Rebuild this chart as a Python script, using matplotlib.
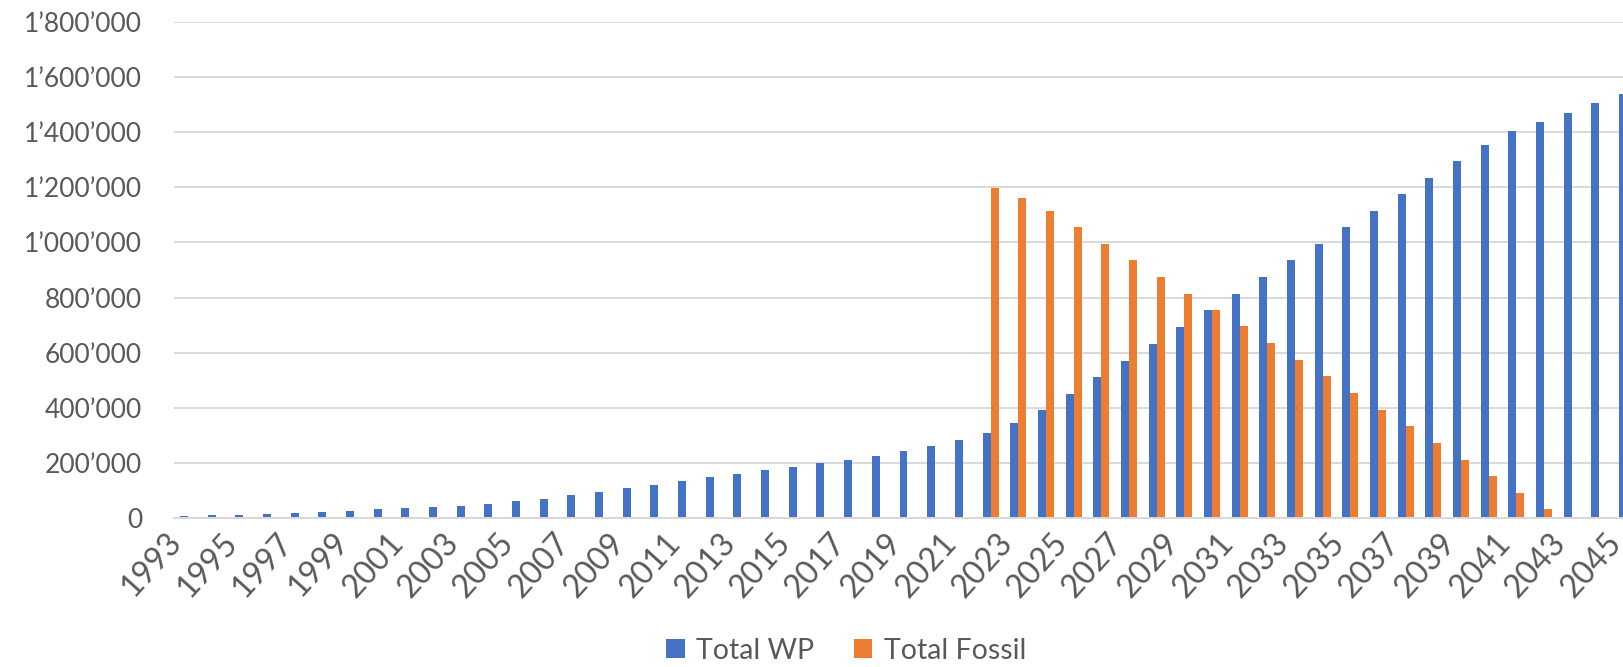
import numpy as np
import matplotlib
matplotlib.use("Agg")
import matplotlib.pyplot as plt
from matplotlib.ticker import FuncFormatter

plt.rcParams['font.family'] = ['Lato', 'DejaVu Sans']

# data
years = list(range(1993, 2046))
total_wp = [6000, 8000, 11000, 14000, 17000, 21000, 26000, 31000, 35000, 39000,
            44000, 50000, 60000, 69000, 81000, 95000, 108000, 120000, 134000, 147000,
            160000, 172000, 184000, 198000, 211000, 224000, 241000, 260000, 281000, 308000,
            343000, 391000, 450000, 510000, 571000, 632000, 692000, 753000, 814000, 874000,
            935000, 995000, 1056000, 1115000, 1175000, 1234000, 1296000, 1355000, 1405000, 1439000,
            1472000, 1507000, 1541000]
total_fossil = [0] * 29 + [1198000, 1163000, 1116000, 1056000, 995000, 935000, 874000,
                           814000, 753000, 695000, 634000, 573000, 514000, 453000, 392000,
                           332000, 270000, 211000, 151000, 90000, 31000, 0, 0, 0]
y_ticks = [0, 200000, 400000, 600000, 800000, 1000000, 1200000, 1400000, 1600000, 1800000]

W, H = 1624, 667
fig = plt.figure(figsize=(W / 100, H / 100), dpi=100)
# plot area runs past the right edge, like the cropped original
left, right, bottom, top = 174, 1641, 517.7, 22.3
ax = fig.add_axes([left / W, (H - bottom) / H, (right - left) / W, (bottom - top) / H])

x = np.arange(len(years))
bw = 0.289
blue = '#4472C4'
orange = '#ED7D31'
ax.bar(x - bw / 2, total_wp, width=bw, color=blue, label='Total WP', zorder=2)
ax.bar(x + bw / 2, total_fossil, width=bw, color=orange, label='Total Fossil', zorder=2)

ax.set_xlim(-0.5, len(years) - 0.5)
ax.set_ylim(0, 1800000)
ax.set_yticks(y_ticks)
ax.yaxis.set_major_formatter(FuncFormatter(lambda v, p: f"{int(v):,}".replace(",", "\u2019")))
ax.grid(axis='y', color='#d9d9d9', linewidth=1.4, zorder=0)
ax.set_axisbelow(True)

ax.set_xticks(x[::2])
ax.set_xticklabels([str(y) for y in years[::2]], rotation=48, ha='right', va='top')

for s in ['left', 'right', 'top']:
    ax.spines[s].set_visible(False)
ax.spines['bottom'].set_color('#d9d9d9')
ax.spines['bottom'].set_linewidth(1.4)
ax.tick_params(axis='both', length=0, colors='#595959')
ax.tick_params(axis='y', pad=23, labelsize=19)
ax.tick_params(axis='x', pad=7, labelsize=23)

fig.legend(loc='center', bbox_to_anchor=(0.521, 0.024), ncol=2, frameon=False,
           fontsize=20.5, labelcolor='#595959', handlelength=0.65, handleheight=0.65,
           handletextpad=0.4, columnspacing=1.4)

fig.savefig('out.png', dpi=100)
